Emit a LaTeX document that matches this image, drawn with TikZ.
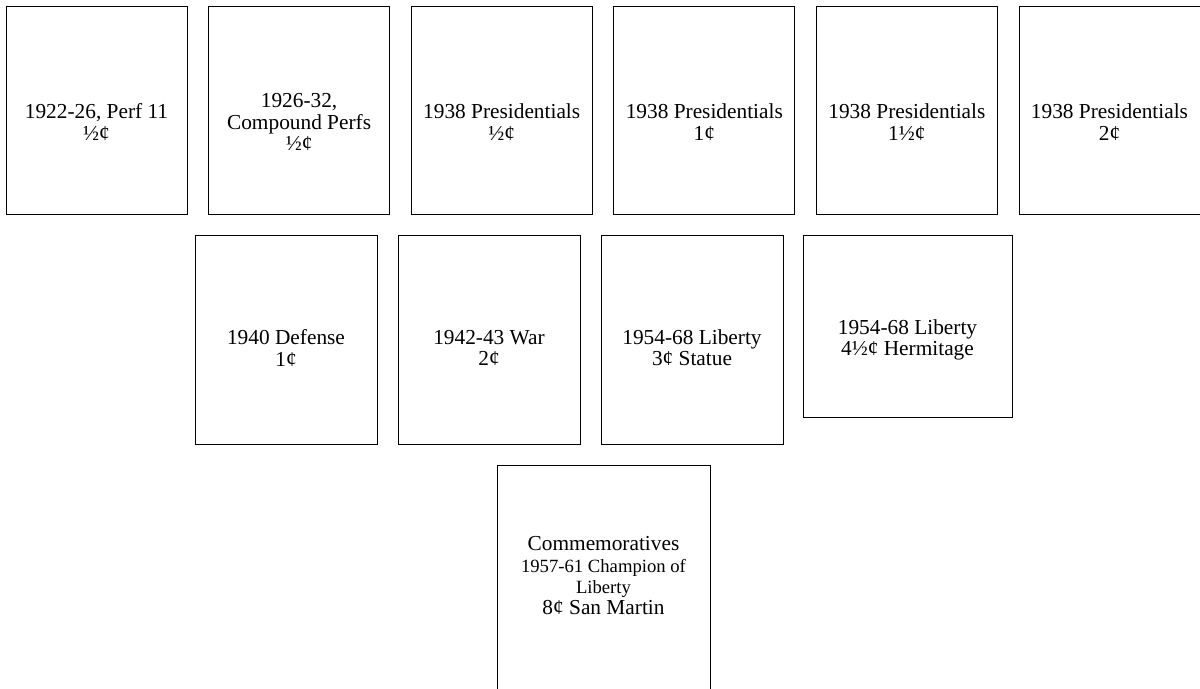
\documentclass[tikz,border=0pt]{standalone}
\usepackage{fontspec}
\setmainfont{Liberation Serif}
\newcommand{\smtxt}{\fontsize{14}{16}\selectfont}

\begin{document}
\begin{tikzpicture}[x=0.75pt,y=-0.75pt,
  stamp/.style={draw,line width=0.75pt,inner sep=0pt,minimum width=135.75pt,minimum height=156pt},
  lbl/.style={align=center,inner sep=0pt,font=\fontsize{16}{16}\selectfont}]
\useasboundingbox (0,0) rectangle (1200,689);
% first row
\node[stamp] (s1) at (96.5,110) {};
\node[stamp] (s2) at (299.1,110) {};
\node[stamp] (s3) at (501.7,110) {};
\node[stamp] (s4) at (704.3,110) {};
\node[stamp] (s5) at (906.9,110) {};
\node[stamp,minimum width=137.25pt] (s6) at (1110.5,110) {};
\node[lbl] (c1) at (96.5,122) {1922-26, Perf 11\\½¢};
\node[lbl] (c2) at (299.1,122) {1926-32,\\Compound Perfs\\½¢};
\node[lbl] (c3) at (501.7,122) {1938 Presidentials\\½¢};
\node[lbl] (c4) at (704.3,122) {1938 Presidentials\\1¢};
\node[lbl] (c5) at (906.9,122) {1938 Presidentials\\1½¢};
\node[lbl] (c6) at (1109.5,122) {1938 Presidentials\\2¢};
% second row
\node[stamp,minimum width=136.5pt,minimum height=156.75pt] (s7) at (286,339.5) {};
\node[stamp,minimum width=136.5pt,minimum height=156.75pt] (s8) at (489,339.5) {};
\node[stamp,minimum width=136.5pt,minimum height=156.75pt] (s9) at (692,339.5) {};
\node[stamp,minimum width=156.75pt,minimum height=136.5pt] (s10) at (907.5,326) {};
\node[lbl] (c7) at (286,348) {1940 Defense\\1¢};
\node[lbl] (c8) at (489,348) {1942-43 War\\2¢};
\node[lbl] (c9) at (692,348) {1954-68 Liberty\\3¢ Statue};
\node[lbl] (c10) at (907.5,340) {1954-68 Liberty\\4½¢ Hermitage};
% commemoratives
\node[stamp,minimum width=159.75pt,minimum height=180pt] (s11) at (603.5,585) {};
\node[lbl] (c11) at (603.5,576) {Commemoratives\\{\smtxt 1957-61 Champion of}\\{\smtxt Liberty}\\8¢ San Martin};
\end{tikzpicture}
\end{document}
